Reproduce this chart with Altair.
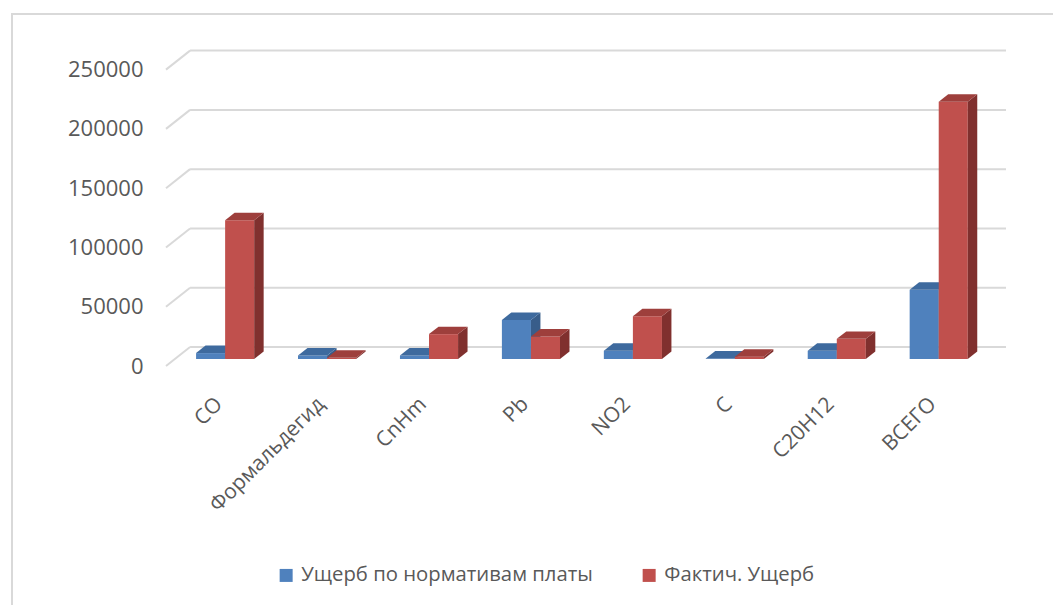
import altair as alt
import pandas as pd

# ---- data -------------------------------------------------------------
categories = ["CO", "Формальдегид", "CnHm", "Pb", "NO2", "C", "C20H12", "ВСЕГО"]
series_names = ["Ущерб по нормативам платы", "Фактич. Ущерб"]
norm_damage = [5000, 3000, 3000, 33000, 7000, 500, 7000, 58500]
actual_damage = [117000, 1000, 21000, 19000, 36000, 2000, 17000, 217000]
y_ticks = [0, 50000, 100000, 150000, 200000, 250000]

# face colours: front, side, top for each series
front_colors = ["#4f81bd", "#c0504d"]
side_colors = ["#385d8a", "#80302e"]
top_colors = ["#3e6a9e", "#9e3f3c"]

# ---- pseudo-3D geometry (in scale units) -------------------------------
X_MIN, X_MAX = -0.58, 7.66      # category index units
Y_MAX = 275000                  # value units
BAR_W = 0.285                   # width of one column
DEPTH_X, DEPTH_Y = 0.093, 6300  # column depth
BASE = 5900                     # column floor, mid-depth
WALL_X, WALL_Y = 0.236, 16050   # back wall offset


def column_faces(s, values):
    name = series_names[s]
    rows = []
    for i, v in enumerate(values):
        xl = i - BAR_W + s * BAR_W
        xr = xl + BAR_W
        top = BASE + v
        pid = f"p{s}{i}"
        # front face
        rows += [
            dict(poly=pid + "f", key=name, px=xl, lo=BASE, hi=top),
            dict(poly=pid + "f", key=name, px=xr, lo=BASE, hi=top),
        ]
        # side face
        rows += [
            dict(poly=pid + "s", key=name + " бок", px=xr, lo=BASE, hi=top),
            dict(poly=pid + "s", key=name + " бок", px=xr + DEPTH_X,
                 lo=BASE + DEPTH_Y, hi=top + DEPTH_Y),
        ]
        # top face
        rows += [
            dict(poly=pid + "t", key=name + " верх", px=xl, lo=top, hi=top),
            dict(poly=pid + "t", key=name + " верх", px=xl + DEPTH_X,
                 lo=top, hi=top + DEPTH_Y),
            dict(poly=pid + "t", key=name + " верх", px=xr,
                 lo=top, hi=top + DEPTH_Y),
            dict(poly=pid + "t", key=name + " верх", px=xr + DEPTH_X,
                 lo=top + DEPTH_Y, hi=top + DEPTH_Y),
        ]
    return pd.DataFrame(rows)


# back-wall gridlines with the diagonal floor-to-wall connectors
grid_rows = []
for v in y_ticks:
    grid_rows.append(dict(x0=X_MIN, x1=X_MIN + WALL_X, y0=v, y1=v + WALL_Y))
    grid_rows.append(dict(x0=X_MIN + WALL_X, x1=X_MAX, y0=v + WALL_Y, y1=v + WALL_Y))
grid = pd.DataFrame(grid_rows)

color_domain = []
color_range = []
for s, name in enumerate(series_names):
    color_domain += [name, name + " бок", name + " верх"]
    color_range += [front_colors[s], side_colors[s], top_colors[s]]

FONT = "Open Sans"
TEXT = "#595959"
label_expr = "[" + ",".join(f"'{c}'" for c in categories) + "][datum.value]"

x_scale = alt.Scale(domain=[X_MIN, X_MAX], nice=False, zero=False)
y_scale = alt.Scale(domain=[0, Y_MAX], nice=False, zero=False)

x_axis = alt.Axis(
    values=list(range(len(categories))), labelExpr=label_expr, labelAngle=-45,
    title=None, grid=False, domain=False, ticks=False, labelPadding=27,
    labelOffset=-14, labelFont=FONT, labelFontSize=21, labelColor=TEXT,
    labelLimit=300, labelOverlap=False,
)
y_axis = alt.Axis(
    values=y_ticks, format="d", title=None, grid=False, domain=False,
    ticks=False, labelPadding=23, labelFont=FONT, labelFontSize=22,
    labelColor=TEXT,
)

color = alt.Color(
    "key:N",
    scale=alt.Scale(domain=color_domain, range=color_range),
    legend=alt.Legend(
        values=series_names, title=None, orient="none", direction="horizontal",
        legendX=110, legendY=525, symbolType="square", symbolSize=169,
        symbolStrokeWidth=0, labelFont=FONT, labelFontSize=20.3,
        labelColor=TEXT, labelLimit=400, columnPadding=46, labelOffset=5,
    ),
)

frame = alt.Chart(pd.DataFrame({"k": [0]})).mark_rect(
    fill="transparent", stroke="#d9d9d9", strokeWidth=2
).encode(
    x=alt.value(-154), x2=alt.value(910), y=alt.value(-26), y2=alt.value(590)
)

gridlines = alt.Chart(grid).mark_rule(color="#d9d9d9", strokeWidth=2).encode(
    x=alt.X("x0:Q", scale=x_scale, axis=x_axis),
    x2="x1:Q",
    y=alt.Y("y0:Q", scale=y_scale, axis=y_axis),
    y2="y1:Q",
)


def columns(s, values):
    return alt.Chart(column_faces(s, values)).mark_area(
        orient="vertical", opacity=1
    ).encode(
        x=alt.X("px:Q", scale=x_scale, axis=x_axis),
        y=alt.Y("lo:Q", scale=y_scale, axis=y_axis, stack=None),
        y2="hi:Q",
        color=color,
        detail="poly:N",
    )


chart = alt.layer(
    frame, gridlines, columns(0, norm_damage), columns(1, actual_damage)
).properties(
    width=840,
    height=326,
    background="white",
    autosize=alt.AutoSizeParams(type="none"),
    padding={"left": 166, "top": 40, "right": 47, "bottom": 239},
).configure_view(stroke="transparent", strokeWidth=0)

chart.save("out.html", embed_options={"renderer": "svg", "actions": False})
